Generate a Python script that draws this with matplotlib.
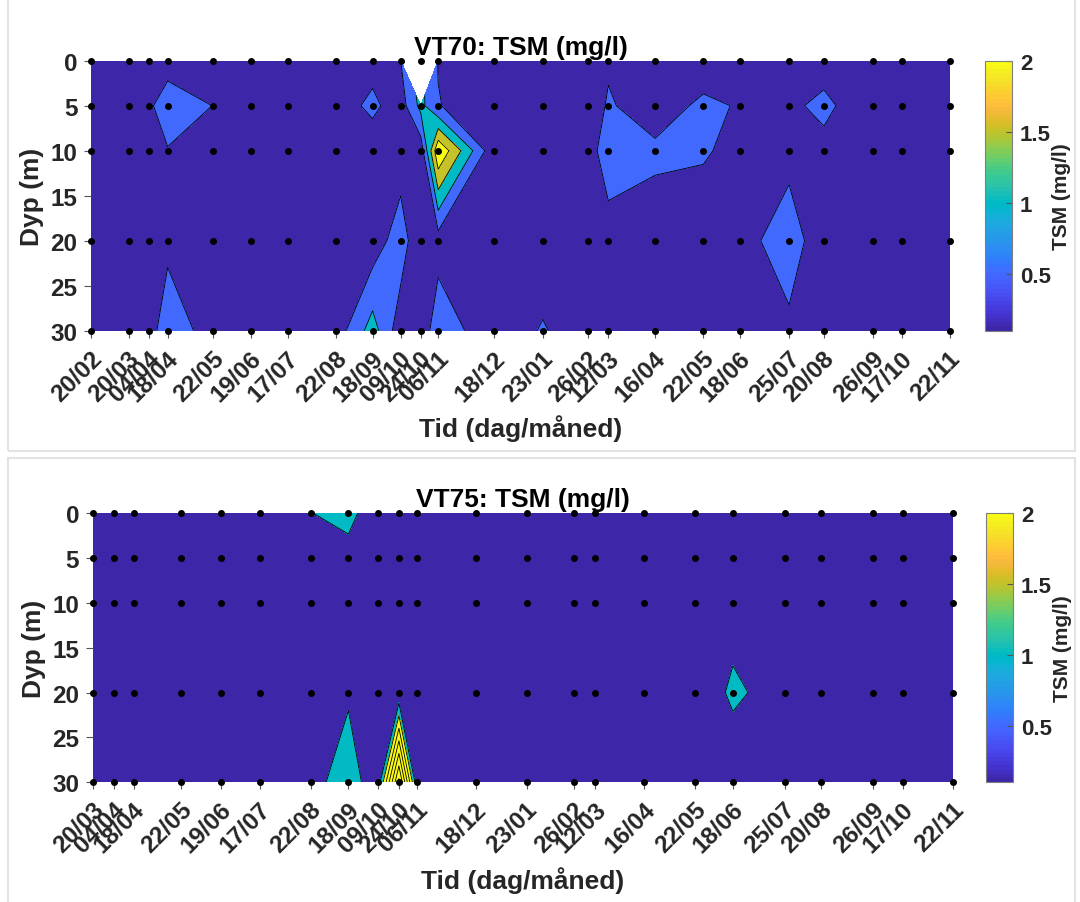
import numpy as np
import matplotlib
matplotlib.use("Agg")
import matplotlib.pyplot as plt
import matplotlib.dates as mdates
from matplotlib.colors import ListedColormap, Normalize
from matplotlib.cm import ScalarMappable
from matplotlib.patches import Rectangle
from matplotlib.transforms import ScaledTranslation

plt.rcParams['font.family'] = ['Liberation Sans', 'DejaVu Sans']
plt.rcParams['font.weight'] = 'bold'
plt.rcParams['axes.labelweight'] = 'bold'
plt.rcParams['axes.titleweight'] = 'bold'

# MATLAB parula, 64 entries
PARULA = [
    [0.2422, 0.1504, 0.6603], [0.2504, 0.1650, 0.7076], [0.2578, 0.1818, 0.7511], [0.2647, 0.1978, 0.7952],
    [0.2706, 0.2147, 0.8364], [0.2751, 0.2342, 0.8710], [0.2783, 0.2559, 0.8991], [0.2803, 0.2782, 0.9221],
    [0.2813, 0.3006, 0.9414], [0.2810, 0.3228, 0.9579], [0.2795, 0.3447, 0.9717], [0.2760, 0.3667, 0.9829],
    [0.2699, 0.3892, 0.9906], [0.2602, 0.4123, 0.9952], [0.2440, 0.4358, 0.9988], [0.2206, 0.4603, 0.9973],
    [0.1963, 0.4847, 0.9892], [0.1834, 0.5074, 0.9798], [0.1786, 0.5289, 0.9682], [0.1764, 0.5499, 0.9520],
    [0.1687, 0.5703, 0.9359], [0.1540, 0.5902, 0.9218], [0.1460, 0.6091, 0.9079], [0.1380, 0.6276, 0.8973],
    [0.1248, 0.6459, 0.8883], [0.1113, 0.6635, 0.8763], [0.0952, 0.6798, 0.8598], [0.0689, 0.6948, 0.8394],
    [0.0297, 0.7082, 0.8163], [0.0036, 0.7203, 0.7917], [0.0067, 0.7312, 0.7660], [0.0433, 0.7411, 0.7394],
    [0.0964, 0.7500, 0.7120], [0.1408, 0.7584, 0.6842], [0.1717, 0.7670, 0.6554], [0.1938, 0.7758, 0.6251],
    [0.2161, 0.7843, 0.5923], [0.2470, 0.7918, 0.5567], [0.2906, 0.7973, 0.5188], [0.3406, 0.8008, 0.4789],
    [0.3909, 0.8029, 0.4354], [0.4456, 0.8024, 0.3909], [0.5044, 0.7993, 0.3480], [0.5616, 0.7942, 0.3045],
    [0.6174, 0.7876, 0.2612], [0.6720, 0.7793, 0.2227], [0.7242, 0.7698, 0.1910], [0.7738, 0.7598, 0.1646],
    [0.8203, 0.7498, 0.1535], [0.8634, 0.7406, 0.1596], [0.9035, 0.7330, 0.1774], [0.9393, 0.7288, 0.2100],
    [0.9728, 0.7298, 0.2394], [0.9956, 0.7434, 0.2371], [0.9970, 0.7659, 0.2199], [0.9952, 0.7893, 0.2028],
    [0.9892, 0.8136, 0.1885], [0.9786, 0.8386, 0.1766], [0.9676, 0.8639, 0.1643], [0.9610, 0.8890, 0.1537],
    [0.9597, 0.9135, 0.1423], [0.9628, 0.9373, 0.1265], [0.9691, 0.9606, 0.1064], [0.9769, 0.9839, 0.0805],
]
parula = ListedColormap(PARULA, name='parula')
norm = Normalize(vmin=0.1, vmax=2.0, clip=True)

depths = [0, 5, 10, 20, 30]

# --- VT70 ---
vt70_dates = ['2019-02-20', '2019-03-20', '2019-04-04', '2019-04-18', '2019-05-22', '2019-06-19',
              '2019-07-17', '2019-08-22', '2019-09-18', '2019-10-09', '2019-10-24', '2019-11-06',
              '2019-12-18', '2020-01-23', '2020-02-26', '2020-03-12', '2020-04-16', '2020-05-22',
              '2020-06-18', '2020-07-25', '2020-08-20', '2020-09-26', '2020-10-17', '2020-11-22']
vt70_tsm = [
    [0.20, 0.22, 0.18, 0.17, 0.21, 0.19, 0.20, 0.22, 0.34, 0.50, np.nan, 0.48,
     0.20, 0.18, 0.21, 0.44, 0.20, 0.22, 0.19, 0.21, 0.32, 0.20, 0.19, 0.21],   # 0 m
    [0.22, 0.25, 0.37, 0.90, 0.49, 0.21, 0.20, 0.29, 0.60, 0.26, 1.15, 0.52,
     0.21, 0.19, 0.24, 0.55, 0.26, 0.60, 0.465, 0.42, 0.60, 0.19, 0.20, 0.22],  # 5 m
    [0.20, 0.21, 0.22, 0.46, 0.20, 0.19, 0.21, 0.20, 0.25, 0.20, 0.20, 2.45,
     0.10, 0.18, 0.30, 0.75, 0.59, 0.55, 0.36, 0.38, 0.38, 0.20, 0.21, 0.20],   # 10 m
    [0.21, 0.20, 0.22, 0.31, 0.20, 0.21, 0.20, 0.20, 0.19, 0.80, 0.02, 0.26,
     0.20, 0.15, 0.20, 0.30, 0.26, 0.22, 0.35, 0.70, 0.25, 0.20, 0.21, 0.20],   # 20 m
    [0.20, 0.19, 0.17, 0.95, 0.16, 0.20, 0.21, 0.23, 1.23, 0.19, 0.13, 0.85,
     0.11, 0.55, 0.15, 0.20, 0.21, 0.20, 0.21, 0.42, 0.20, 0.22, 0.20, 0.21],   # 30 m
]
vt70_levels = [-1, 0.5, 1.0, 1.5, 2.0, 3.0]

# --- VT75 ---
vt75_dates = ['2019-03-20', '2019-04-04', '2019-04-18', '2019-05-22', '2019-06-19', '2019-07-17',
              '2019-08-22', '2019-09-18', '2019-10-09', '2019-10-24', '2019-11-06', '2019-12-18',
              '2020-01-23', '2020-02-26', '2020-03-12', '2020-04-16', '2020-05-22', '2020-06-18',
              '2020-07-25', '2020-08-20', '2020-09-26', '2020-10-17', '2020-11-22']
vt75_tsm = [
    [0.30, 0.28, 0.32, 0.30, 0.27, 0.31, 0.98, 1.30, 0.36, 0.30, 0.28, 0.31,
     0.29, 0.30, 0.32, 0.28, 0.30, 0.31, 0.29, 0.30, 0.28, 0.31, 0.30],   # 0 m
    [0.31, 0.29, 0.30, 0.28, 0.30, 0.29, 0.40, 0.66, 0.30, 0.31, 0.29, 0.30,
     0.28, 0.31, 0.30, 0.29, 0.31, 0.30, 0.28, 0.30, 0.29, 0.30, 0.31],   # 5 m
    [0.30, 0.31, 0.29, 0.30, 0.28, 0.30, 0.31, 0.35, 0.30, 0.29, 0.30, 0.31,
     0.30, 0.29, 0.30, 0.31, 0.30, 0.53, 0.30, 0.29, 0.31, 0.30, 0.29],   # 10 m
    [0.29, 0.30, 0.31, 0.30, 0.29, 0.31, 0.30, 0.85, 0.30, 0.17, 0.30, 0.29,
     0.30, 0.31, 0.29, 0.30, 0.20, 1.20, 0.51, 0.30, 0.29, 0.30, 0.31],   # 20 m
    [0.30, 0.29, 0.30, 0.31, 0.30, 0.29, 0.58, 1.60, 0.25, 7.30, 0.14, 0.30,
     0.31, 0.30, 0.29, 0.30, 0.31, 0.25, 0.30, 0.29, 0.30, 0.31, 0.30],   # 30 m
]
vt75_levels = [-1, 1, 2, 3, 4, 5, 6, 7, 8]

cbar_ticks = [0.5, 1, 1.5, 2]
TXT = '#262626'
W, H = 1080, 903


def px_box(left, top, right, bottom):
    return [left / W, (H - bottom) / H, (right - left) / W, (bottom - top) / H]


def draw_station(fig, ax_box, cax_box, dates, tsm, levels, title):
    ax = fig.add_axes(px_box(*ax_box))
    cax = fig.add_axes(px_box(*cax_box))

    t = mdates.date2num(np.array(dates, dtype='datetime64[D]'))
    X, Y = np.meshgrid(t, depths)
    Z = np.array(tsm, dtype=float)

    fill_colors = [parula(norm(lv)) for lv in levels[:-1]]
    ax.contourf(X, Y, Z, levels=levels, colors=fill_colors)
    ax.contour(X, Y, Z, levels=levels[1:-1], colors='k', linewidths=0.6)
    ax.plot(X.ravel(), Y.ravel(), 'o', color='k', ms=4, ls='none', clip_on=False, zorder=5)

    ax.set_xlim(t[0], t[-1])
    ax.set_ylim(30, 0)
    ax.set_yticks([0, 5, 10, 15, 20, 25, 30])
    ax.set_xticks(t)
    labels = [np.datetime_as_string(np.datetime64(d), unit='D') for d in dates]
    labels = [s[8:10] + '/' + s[5:7] for s in labels]
    ax.set_xticklabels(labels, rotation=45, ha='right', va='center', rotation_mode='anchor',
                       fontweight='bold')
    ax.tick_params(direction='out', length=5, width=0.8, color='#555555', labelcolor=TXT,
                   labelsize=17.5, pad=5)
    ax.tick_params(axis='x', pad=12)
    for lb in ax.get_yticklabels():
        lb.set_fontweight('bold')
    # nudge the rotated date labels a little to the right of their ticks
    shift = ScaledTranslation(7 / 100, 0, fig.dpi_scale_trans)
    for lb in ax.get_xticklabels():
        lb.set_transform(lb.get_transform() + shift)
    for sp in ax.spines.values():
        sp.set_visible(False)

    ax.set_title(title, fontsize=19, fontweight='bold', color='k', pad=5)
    ax.set_xlabel('Tid (dag/måned)', fontsize=19, fontweight='bold', color=TXT)
    ax.xaxis.set_label_coords(0.5, -0.31)
    ax.set_ylabel('Dyp (m)', fontsize=19, fontweight='bold', color=TXT)
    ax.yaxis.set_label_coords(-0.055, 0.5)

    sm = ScalarMappable(norm=Normalize(0.1, 2.0), cmap=parula)
    cb = fig.colorbar(sm, cax=cax, ticks=cbar_ticks)
    cb.ax.set_yticklabels(['0.5', '1', '1.5', '2'], fontweight='bold')
    cb.ax.tick_params(direction='in', length=4, width=0.8, color='#555555', labelcolor=TXT,
                      labelsize=16, pad=6)
    cb.outline.set_edgecolor('#7f7f7f')
    cb.outline.set_linewidth(0.8)
    cb.set_label('TSM (mg/l)', fontsize=15, fontweight='bold', color=TXT, labelpad=1)
    return ax


fig = plt.figure(figsize=(W / 100, H / 100), dpi=100)

# panel frames
for top, bottom in [(-4, 452), (459, 908)]:
    fig.patches.append(Rectangle((8 / W, (H - bottom) / H), (1075 - 8) / W, (bottom - top) / H,
                                 transform=fig.transFigure, fill=False,
                                 edgecolor='#e3e3e3', linewidth=1.5))

draw_station(fig, (91.3, 61.7, 949.8, 331.7), (985, 61.7, 1011.7, 331.7),
             vt70_dates, vt70_tsm, vt70_levels, 'VT70: TSM (mg/l)')
draw_station(fig, (93, 514, 953.2, 783.3), (986, 514, 1012.5, 783.3),
             vt75_dates, vt75_tsm, vt75_levels, 'VT75: TSM (mg/l)')

fig.savefig('out.png', dpi=100, facecolor='white')
